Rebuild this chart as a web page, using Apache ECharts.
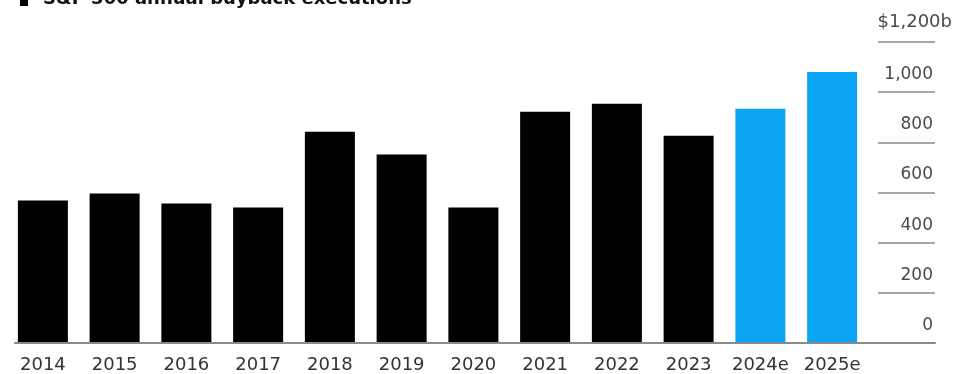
<!DOCTYPE html>
<html>
<head>
<meta charset="utf-8">
<script src="https://cdn.jsdelivr.net/npm/echarts@6/dist/echarts.min.js"></script>
<style>
html,body{margin:0;padding:0;background:#fff;}
#chart{width:955px;height:374px;}
</style>
</head>
<body>
<div id="chart"></div>
<script>
// Data
const seriesName = 'S&P 500 annual buyback executions';
const categories = ['2014','2015','2016','2017','2018','2019','2020','2021','2022','2023','2024e','2025e'];
const buybacks = [566, 594, 554, 538, 841, 750, 538, 921, 953, 825, 933, 1080];
const estimateYears = ['2024e','2025e'];
const yTicks = [0, 200, 400, 600, 800, 1000, 1200];
const topTickLabel = '$1,200b';

const FONT = '"DejaVu Sans", "Liberation Sans", Arial, sans-serif';
const chart = echarts.init(document.getElementById('chart'), null, {renderer: 'canvas'});

function fmtThousands(v) {
  return v >= 1000 ? Math.floor(v / 1000) + ',' + String(v % 1000).padStart(3, '0') : String(v);
}

chart.setOption({
  animation: false,
  backgroundColor: '#ffffff',
  legend: {
    left: 20,
    top: -10,
    padding: 0,
    itemWidth: 8,
    itemHeight: 14,
    icon: 'rect',
    textStyle: {fontFamily: FONT, fontSize: 18, fontWeight: 'bold', color: '#111', padding: [0, 0, 0, 10]},
    data: [{name: seriesName, itemStyle: {color: '#000000'}}]
  },
  grid: [
    {left: 7, right: 87, top: 42, bottom: 31},
    {left: 878, right: 20, top: 42, bottom: 31},
    {left: 15, right: 20, top: 42, bottom: 31}
  ],
  xAxis: [
    {
      gridIndex: 0, type: 'category', data: categories,
      axisLine: {show: false}, axisTick: {show: false},
      axisLabel: {interval: 0, hideOverlap: false, fontFamily: FONT, fontSize: 18, color: '#333', margin: 14}
    },
    {gridIndex: 1, type: 'value', show: false},
    {
      gridIndex: 2, type: 'value', min: 0, max: 1,
      axisLine: {show: true, lineStyle: {color: '#8a8a8a', width: 2}},
      axisTick: {show: false}, axisLabel: {show: false}, splitLine: {show: false}
    }
  ],
  yAxis: [
    {gridIndex: 0, type: 'value', min: 0, max: 1200, interval: 200, show: false},
    {
      gridIndex: 1, type: 'value', position: 'right', min: 0, max: 1200, interval: 200,
      axisLine: {show: false}, axisTick: {show: false},
      splitLine: {show: true, lineStyle: {color: '#8a8a8a', width: 1.5}},
      axisLabel: {
        inside: true, margin: 2, fontFamily: FONT, fontSize: 17, color: '#4a4a4a',
        verticalAlign: 'bottom', padding: [0, 0, 9, 0],
        formatter: function (v) { return v === yTicks[yTicks.length - 1] ? '' : fmtThousands(v); }
      }
    },
    {gridIndex: 2, type: 'value', show: false, min: 0, max: 1},
    {
      gridIndex: 1, type: 'value', position: 'right', offset: 18, min: 0, max: 1200, interval: 200,
      axisLine: {show: false}, axisTick: {show: false}, splitLine: {show: false},
      axisLabel: {
        inside: true, margin: 1, fontFamily: FONT, fontSize: 18, color: '#4a4a4a',
        verticalAlign: 'bottom', padding: [0, 0, 11, 0],
        formatter: function (v) { return v === yTicks[yTicks.length - 1] ? topTickLabel : ''; }
      }
    }
  ],
  series: [
    {
      name: seriesName,
      type: 'bar',
      xAxisIndex: 0, yAxisIndex: 0,
      barWidth: 50,
      data: buybacks,
      itemStyle: {
        color: function (p) {
          return estimateYears.indexOf(categories[p.dataIndex]) >= 0 ? '#0aa6f5' : '#000000';
        }
      }
    }
  ]
});
</script>
</body>
</html>
